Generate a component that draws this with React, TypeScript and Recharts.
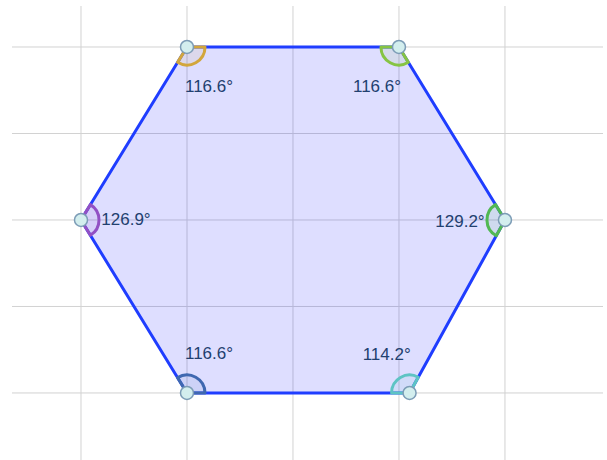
import React from 'react';
import {
  ScatterChart,
  Scatter,
  XAxis,
  YAxis,
  ReferenceLine,
} from 'recharts';

// hexagon vertices, clockwise from top-left
const vertexX = [1, 3, 4, 3.1, 1, 0];
const vertexY = [4, 4, 2, 0, 0, 2];
const angleLabels = ['116.6°', '116.6°', '129.2°', '114.2°', '116.6°', '126.9°'];
const gridTicks = [0, 1, 2, 3, 4];

const angleColors = ['#d2a63c', '#86c443', '#52b854', '#5ec4c4', '#3f68b0', '#9250c4'];

const vertices = vertexX.map((x, i) => ({ x, y: vertexY[i], label: angleLabels[i] }));

const ARC_R = 18;
const LABEL_DIST = 45;

const HexagonShape = (props: any) => {
  const pts: Array<{ x: number; y: number }> = props.points || [];
  if (pts.length < 3) return null;
  const n = pts.length;
  const poly = pts.map((p) => `${p.x},${p.y}`).join(' ');

  const angles = pts.map((p, i) => {
    const prev = pts[(i - 1 + n) % n];
    const next = pts[(i + 1) % n];
    const d1x = prev.x - p.x;
    const d1y = prev.y - p.y;
    const d2x = next.x - p.x;
    const d2y = next.y - p.y;
    const l1 = Math.hypot(d1x, d1y);
    const l2 = Math.hypot(d2x, d2y);
    const u1 = { x: d1x / l1, y: d1y / l1 };
    const u2 = { x: d2x / l2, y: d2y / l2 };
    const cross = u1.x * u2.y - u1.y * u2.x;
    const sweep = cross > 0 ? 1 : 0;
    const a = { x: p.x + u1.x * ARC_R, y: p.y + u1.y * ARC_R };
    const b = { x: p.x + u2.x * ARC_R, y: p.y + u2.y * ARC_R };
    const bx = u1.x + u2.x;
    const by = u1.y + u2.y;
    const bl = Math.hypot(bx, by) || 1;
    return {
      d: `M${p.x},${p.y} L${a.x},${a.y} A${ARC_R},${ARC_R} 0 0 ${sweep} ${b.x},${b.y} Z`,
      lx: p.x + (bx / bl) * LABEL_DIST,
      ly: p.y + (by / bl) * LABEL_DIST,
      color: angleColors[i % angleColors.length],
      label: vertices[i]?.label,
    };
  });

  return (
    <g>
      <polygon
        points={poly}
        fill="#0000ff"
        fillOpacity={0.13}
        stroke="#1f3dff"
        strokeWidth={3}
        strokeLinejoin="round"
      />
      {angles.map((a, i) => (
        <path
          key={`arc-${i}`}
          d={a.d}
          fill={a.color}
          fillOpacity={0.1}
          stroke={a.color}
          strokeWidth={3}
          strokeLinejoin="round"
        />
      ))}
      {angles.map((a, i) => (
        <text
          key={`lbl-${i}`}
          x={a.lx}
          y={a.ly}
          textAnchor="middle"
          dominantBaseline="central"
          fill="#22406f"
          fontSize={17}
          fontFamily="'Liberation Sans', Arial, sans-serif"
        >
          {a.label}
        </text>
      ))}
    </g>
  );
};

const VertexDot = (props: any) => {
  const { cx, cy } = props;
  return <circle cx={cx} cy={cy} r={6.5} fill="#d3eeee" stroke="#7c9cb6" strokeWidth={1.5} />;
};

export default function App() {
  return (
    <div style={{ position: 'absolute', left: 0, top: 0, background: '#fff' }}>
      <ScatterChart
        width={607}
        height={460}
        margin={{ top: 6, right: 4, bottom: 0, left: 12 }}
      >
        <XAxis
          type="number"
          dataKey="x"
          domain={[-0.651, 4.925]}
          ticks={gridTicks}
          allowDataOverflow
          hide
        />
        <YAxis
          type="number"
          dataKey="y"
          domain={[-0.775, 4.474]}
          ticks={gridTicks}
          allowDataOverflow
          hide
        />
        {gridTicks.map((t) => (
          <ReferenceLine key={`gx-${t}`} x={t} stroke="#d2d2d2" strokeWidth={1} />
        ))}
        {gridTicks.map((t) => (
          <ReferenceLine key={`gy-${t}`} y={t} stroke="#d2d2d2" strokeWidth={1} />
        ))}
        <Scatter
          data={vertices}
          line={(p: any) => <HexagonShape {...p} />}
          lineType="joint"
          shape={<VertexDot />}
          isAnimationActive={false}
        />
      </ScatterChart>
    </div>
  );
}
